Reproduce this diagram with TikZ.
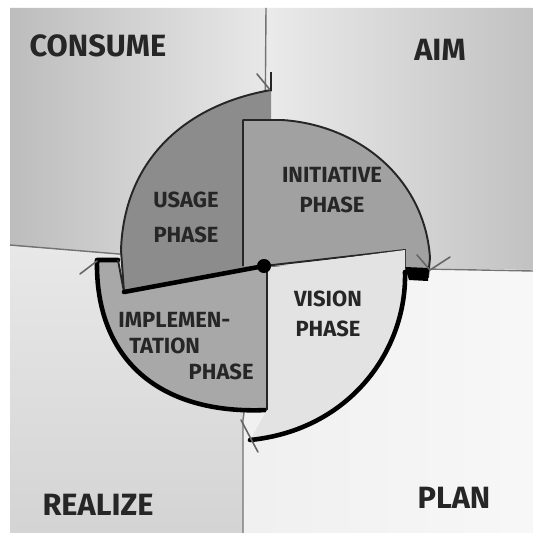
\documentclass[tikz,border=0pt]{standalone}
\usepackage{fontspec}
\setmainfont{Fira Sans}
\usetikzlibrary{positioning}

\begin{document}
\begin{tikzpicture}[
  x=0.02cm,
  y=-0.02cm,
  quadrant/.style={
    font=\fontsize{17.5}{18}\selectfont\bfseries,
    text=black!85
  },
  phase/.style={
    font=\fontsize{12.5}{17}\selectfont\bfseries,
    text=black!85,
    align=center,
    inner sep=0pt
  },
  axis/.style={
    draw=black!55,
    line width=0.8pt
  },
  sketch/.style={
    draw=black!85,
    line width=1.1pt,
    line join=round
  },
  heavy/.style={
    draw=black,
    line width=2.6pt,
    line cap=round,
    line join=round
  },
  tick/.style={
    draw=black!60,
    line width=0.9pt,
    line cap=round
  }
]
  \useasboundingbox (0,0) rectangle (533,533);
  \fill[white] (0,0) rectangle (533,533);
  \coordinate (center) at (264,266);
  \shade[left color=black!26, right color=black!9]
    (10,8) -- (266,8) -- (center) -- (10,246) -- cycle;
  \shade[left color=black!8, right color=black!24]
    (266,8) -- (533,8) -- (533,270) -- (center) -- cycle;
  \shade[top color=black!9, bottom color=black!17]
    (10,246) -- (center) -- (243,420) -- (243,533) -- (10,533) -- cycle;
  \shade[left color=black!6, right color=black!3]
    (center) -- (533,270) -- (533,533) -- (243,533) -- (243,420) -- cycle;
  \draw[axis] (center) -- (266,8);
  \draw[axis] (center) -- (10,245);
  \draw[axis] (center) -- (533,271);
  \draw[axis] (center) -- (243,420) -- (243,533);
  \fill[black!45] (124,292) -- (121,250)
    .. controls (124,160) and (185,105) .. (271,90)
    -- (271,120) -- (center) -- cycle;
  \draw[sketch] (124,292) -- (121,250)
    .. controls (124,160) and (185,105) .. (271,90);
  \draw[tick] (257,74) -- (271,91);
  \draw[sketch] (271,91) -- (271,72);
  \fill[black!37] (243,266) -- (243,120) -- (282,120)
    .. controls (360,125) and (425,180) .. (430,258)
    -- (428,277) -- (405,272) -- (405,250) -- (center) -- cycle;
  \draw[sketch] (243,266) -- (243,120) -- (282,120)
    .. controls (360,125) and (425,180) .. (430,258)
    -- (428,277) -- (405,272) -- (405,250) -- (center);
  \fill[black] (405,267) -- (429,268) -- (428,281) -- (409,280) -- cycle;
  \draw[tick] (417,255) -- (430,270) -- (450,257);
  \fill[black!34] (97,260) -- (118,260) -- (124,292) -- (267,267)
    -- (267,410) .. controls (160,415) and (95,360) .. (97,260) -- cycle;
  \draw[heavy] (267,410) .. controls (160,415) and (95,360) .. (97,260)
    -- (118,260);
  \draw[sketch] (118,260) -- (124,292);
  \draw[tick] (80,274) -- (97,261);
  \fill[black!11] (267,268) -- (405,250) -- (405,272)
    .. controls (407,350) and (350,430) .. (250,440)
    -- (267,410) -- cycle;
  \draw[sketch] (267,268) -- (267,410);
  \draw[heavy] (405,272) .. controls (407,350) and (350,430) .. (250,440);
  \draw[heavy] (124,292) -- (center);
  \draw[tick] (241,420) -- (251,439) -- (258,452);
  \fill[black] (center) circle (4pt);
  \node[phase, font=\fontsize{12.5}{20}\selectfont\bfseries] (usage)
    at (186,217) {USAGE\\PHASE};
  \node[phase] (initiative) at (332,190) {INITIATIVE\\PHASE};
  \node[phase] (vision) at (328,314) {VISION\\PHASE};
  \node[phase, align=left, font=\fontsize{12.5}{15}\selectfont\bfseries]
    (implementation) at (186,346)
    {IMPLEMEN-\\\hspace*{0.5em}TATION\\\hspace*{3.2em}PHASE};
  \node[quadrant] (consume) at (98,46) {CONSUME};
  \node[quadrant] (aim) at (440,50) {AIM};
  \node[quadrant] (realize) at (98,505) {REALIZE};
  \node[quadrant] (plan) at (454,498) {PLAN};
\end{tikzpicture}
\end{document}
